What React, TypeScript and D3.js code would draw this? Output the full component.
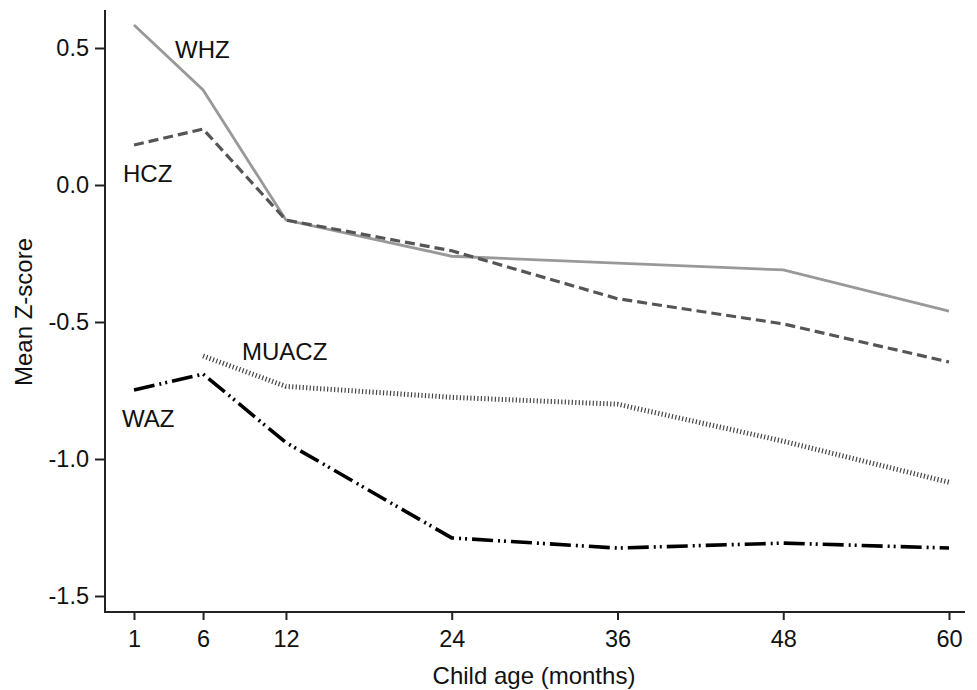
import React from "react";
import * as d3 from "d3";

// child age in months
const ages = [1, 6, 12, 24, 36, 48, 60];
const muacAges = [6, 12, 24, 36, 48, 60];

const whz = [0.584, 0.347, -0.128, -0.26, -0.285, -0.31, -0.46];
const hcz = [0.146, 0.204, -0.128, -0.24, -0.415, -0.507, -0.646];
const muacz = [-0.624, -0.735, -0.775, -0.8, -0.935, -1.085];
const waz = [-0.748, -0.69, -0.94, -1.288, -1.325, -1.307, -1.325];

const yTicks = [0.5, 0, -0.5, -1, -1.5];
const xTicks = [1, 6, 12, 24, 36, 48, 60];

const W = 977;
const H = 690;
const FONT = "'Liberation Sans', Arial, sans-serif";

function App() {
  const svgRef = React.useRef(null);

  React.useEffect(() => {
    const svg = d3.select(svgRef.current);
    svg.selectAll("*").remove();

    const x = d3.scaleLinear().domain([1, 60]).range([134, 949]);
    const y = d3.scaleLinear().domain([-1.5, 0.5]).range([596, 48]);

    // axes
    const yAxis = svg
      .append("g")
      .attr("transform", "translate(105,0)")
      .call(
        d3.axisLeft(y)
          .tickValues(yTicks)
          .tickSize(10)
          .tickPadding(6)
          .tickFormat((d) => (+d).toFixed(1))
      );
    yAxis.select(".domain").remove();

    const xAxis = svg
      .append("g")
      .attr("transform", "translate(0,612)")
      .call(d3.axisBottom(x).tickValues(xTicks).tickSize(8).tickPadding(10));
    xAxis.select(".domain").remove();

    svg.selectAll(".tick line").attr("stroke", "#222").attr("stroke-width", 2);
    svg
      .selectAll(".tick text")
      .attr("fill", "#111")
      .style("font-family", FONT)
      .style("font-size", "23.5px");

    svg
      .append("line")
      .attr("x1", 105).attr("x2", 105)
      .attr("y1", 10).attr("y2", 613)
      .attr("stroke", "#222").attr("stroke-width", 2);
    svg
      .append("line")
      .attr("x1", 104).attr("x2", 965)
      .attr("y1", 612).attr("y2", 612)
      .attr("stroke", "#222").attr("stroke-width", 2);

    // titles
    svg
      .append("text")
      .attr("x", 534).attr("y", 684)
      .attr("text-anchor", "middle")
      .style("font-family", FONT).style("font-size", "24px")
      .attr("fill", "#111")
      .text("Child age (months)");
    svg
      .append("text")
      .attr("transform", "translate(32,312) rotate(-90)")
      .attr("text-anchor", "middle")
      .style("font-family", FONT).style("font-size", "24px")
      .attr("fill", "#111")
      .text("Mean Z-score");

    const line = d3.line<[number, number]>()
      .x((d) => x(d[0]))
      .y((d) => y(d[1]));

    const series = [
      { xs: ages, ys: whz, color: "#999", width: 2.8, dash: null },
      { xs: ages, ys: hcz, color: "#555", width: 3.2, dash: "10 5" },
      { xs: muacAges, ys: muacz, color: "#444", width: 5, dash: "1.2 2.3" },
      { xs: ages, ys: waz, color: "#000", width: 3.6, dash: "21 5 2 4 2 5" },
    ];

    series.forEach((s) => {
      svg
        .append("path")
        .datum(s.xs.map((a, i) => [a, s.ys[i]] as [number, number]))
        .attr("fill", "none")
        .attr("stroke", s.color)
        .attr("stroke-width", s.width)
        .attr("stroke-dasharray", s.dash)
        .attr("d", line);
    });

    // series labels
    const labels = [
      { text: "WHZ", x: 175, y: 58 },
      { text: "HCZ", x: 123, y: 182 },
      { text: "MUACZ", x: 242, y: 360 },
      { text: "WAZ", x: 122, y: 427 },
    ];
    svg
      .selectAll(".lab")
      .data(labels)
      .enter()
      .append("text")
      .attr("x", (d) => d.x)
      .attr("y", (d) => d.y)
      .style("font-family", FONT).style("font-size", "24px")
      .attr("fill", "#111")
      .text((d) => d.text);
  }, []);

  return (
    <svg
      ref={svgRef}
      width={W}
      height={H}
      style={{ position: "absolute", left: 0, top: 0, background: "#fff" }}
    />
  );
}

export default App;
